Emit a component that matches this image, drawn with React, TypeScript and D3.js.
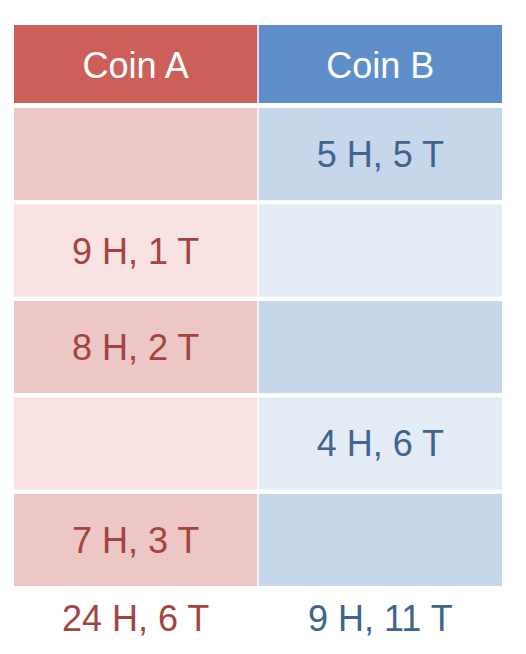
import React from "react";
import * as d3 from "d3";

const coins = ["Coin A", "Coin B"];
const rowsA = ["", "9 H, 1 T", "8 H, 2 T", "", "7 H, 3 T"];
const rowsB = ["5 H, 5 T", "", "", "4 H, 6 T", ""];
const totals = ["24 H, 6 T", "9 H, 11 T"];

const headerFill = ["#cd5f5b", "#5e8fca"];
const darkFill = ["#ecc7c5", "#c6d7eb"];
const lightFill = ["#f8e3e2", "#e3ecf6"];
const textFill = ["#a3443f", "#41648e"];

export default function App() {
  const x = d3.scaleBand<string>().domain(coins).range([14, 502]).paddingInner(0.006);
  const rowIdx = d3.range(5).map(String);
  const y = d3.scaleBand<string>().domain(rowIdx).range([108, 586]).paddingInner(0.045);
  const cols = [rowsA, rowsB];
  return (
    <svg width={526} height={654} style={{ position: "absolute", left: 0, top: 0 }}
      fontFamily="Liberation Sans, Arial, sans-serif">
      {coins.map((c, i) => (
        <g key={c}>
          <rect x={x(c)} y={25} width={x.bandwidth()} height={78} fill={headerFill[i]} />
          <text x={x(c)! + x.bandwidth() / 2} y={78} textAnchor="middle" fontSize={36} fill="#fff">{c}</text>
          {rowIdx.map((r, j) => (
            <g key={r}>
              <rect x={x(c)} y={y(r)} width={x.bandwidth()} height={y.bandwidth()}
                fill={j % 2 === 0 ? darkFill[i] : lightFill[i]} />
              <text x={x(c)! + x.bandwidth() / 2} y={y(r)! + y.bandwidth() / 2 + 13}
                textAnchor="middle" fontSize={36} fill={textFill[i]}>{cols[i][j]}</text>
            </g>
          ))}
          <text x={x(c)! + x.bandwidth() / 2} y={631} textAnchor="middle" fontSize={36} fill={textFill[i]}>{totals[i]}</text>
        </g>
      ))}
    </svg>
  );
}
